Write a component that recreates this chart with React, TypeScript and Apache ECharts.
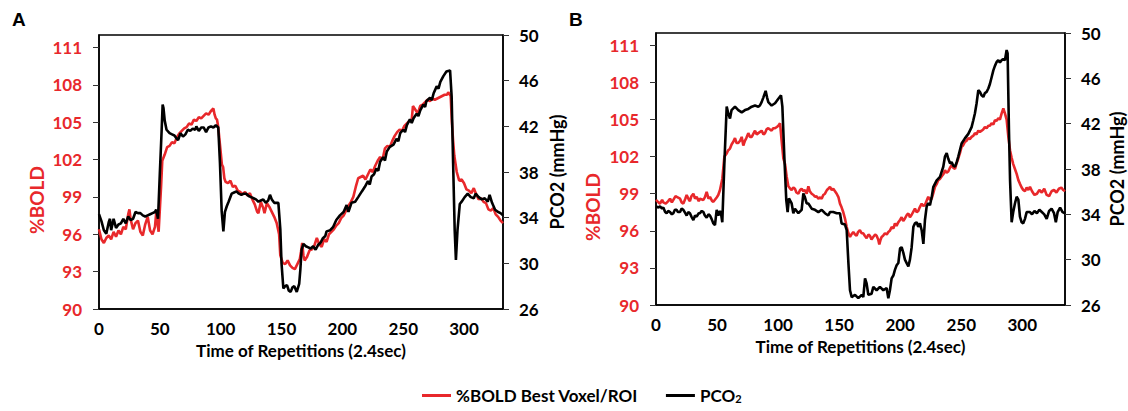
import React, { useEffect, useRef } from "react";
import * as echarts from "echarts";

const boldTicks = [90, 93, 96, 99, 102, 105, 108, 111];
const pco2Ticks = [26, 30, 34, 38, 42, 46, 50];
const timeTicks = [0, 50, 100, 150, 200, 250, 300];

const boldA: number[][] = [
  [0,96.4],[2,95.6],[4,95.3],[6,95.7],[8,95.9],[10,95.6],[12,96.2],[14,95.8],[16,96.3],[18,96.0],[20,96.6],[22,96.4],[24,97.6],[25,98.0],[26,97.2],[28,96.4],[30,96.9],[32,97.1],[34,96.2],[36,95.9],[38,96.8],[40,97.4],[42,96.3],[44,96.0],[46,96.6],[47,97.7],[48,97.0],[49,96.2],[50,98.0],[51,99.8],[52,101.9],[54,102.4],[56,103.0],[58,103.1],[60,103.4],[62,103.3],[64,103.8],[66,104.1],[68,104.3],[70,104.5],[72,104.6],[74,104.9],[76,104.8],[78,105.2],[80,105.1],[82,105.4],[84,105.3],[86,105.5],[88,105.7],[90,105.6],[92,105.9],[94,106.1],[95,105.6],[96,105.3],[97,105.2],[98,104.6],[100,102.6],[101,101.6],[102,101.4],[103,100.5],[104,100.2],[106,100.1],[108,100.3],[110,99.8],[112,99.9],[114,99.5],[116,99.4],[118,99.2],[120,99.4],[122,99.1],[124,99.3],[126,98.8],[128,98.4],[130,97.8],[131,97.7],[133,98.6],[135,98.1],[136,97.7],[138,98.5],[140,98.2],[142,97.8],[144,97.4],[146,96.9],[148,96.0],[149,94.3],[151,93.7],[153,93.6],[155,93.9],[157,93.5],[159,93.3],[161,93.2],[163,93.6],[165,94.0],[166,94.6],[167,95.3],[168,94.3],[169,93.9],[171,94.2],[173,94.7],[175,94.8],[177,95.1],[179,95.7],[181,95.2],[183,95.0],[185,95.6],[187,95.4],[189,96.0],[191,96.2],[193,96.4],[195,96.7],[197,96.9],[199,97.3],[201,97.5],[203,97.9],[205,98.3],[207,98.6],[209,99.0],[211,99.8],[213,100.5],[215,100.6],[217,100.7],[219,100.4],[221,100.8],[223,101.2],[225,101.0],[227,101.5],[229,101.9],[231,102.2],[233,102.0],[235,102.9],[237,103.1],[239,103.0],[241,103.5],[243,103.9],[245,104.2],[247,104.4],[249,104.3],[251,104.7],[253,104.9],[255,105.1],[257,105.2],[258,106.3],[260,106.0],[262,105.7],[264,106.3],[266,106.4],[268,106.6],[270,106.8],[272,106.7],[274,106.9],[276,106.8],[278,106.9],[280,107.0],[282,107.1],[284,107.2],[286,107.2],[287,107.4],[289,107.1],[290,105.0],[291,103.5],[292,102.3],[294,101.0],[296,100.3],[298,100.4],[300,100.1],[302,99.6],[304,99.5],[306,99.3],[308,99.7],[310,99.2],[312,98.8],[314,98.9],[316,98.6],[318,98.5],[320,98.0],[322,97.9],[324,98.1],[326,97.6],[328,97.4],[330,97.1],[332,96.9]
];

const pco2A: number[][] = [
  [0,34.3],[2,33.7],[4,32.9],[6,32.6],[8,33.6],[9,33.9],[10,32.9],[12,33.9],[14,33.1],[16,33.4],[18,33.5],[20,33.9],[22,33.5],[24,34.1],[26,33.8],[28,33.9],[30,34.5],[32,34.4],[34,34.4],[36,34.2],[38,34.1],[40,34.2],[42,34.3],[44,34.4],[46,34.5],[47,34.7],[48.5,33.9],[50,37.9],[51.5,41.7],[52.3,43.9],[53,43.6],[54,42.5],[55.5,41.7],[58,41.4],[60,41.3],[62,41.2],[64,40.9],[65,40.8],[67,41.4],[69,41.1],[71,41.3],[73,41.7],[75,41.6],[77,41.8],[79,41.7],[80,42.0],[82,41.6],[84,41.9],[86,41.9],[88,41.5],[90,41.9],[92,42.0],[94,41.9],[96,42.1],[98,41.9],[99.4,38.8],[100.8,34.6],[102.2,32.8],[103.5,34.5],[105,35.0],[106.5,35.4],[109,36.1],[111,36.2],[113,36.3],[115,36.1],[117,36.0],[119,36.1],[121,36.1],[123,35.9],[125,35.8],[127,35.7],[129,35.6],[131,35.4],[133,35.5],[135,35.6],[137,35.3],[139,35.5],[140.5,36.0],[142,35.6],[144,35.3],[146,35.3],[147.4,35.3],[149,33.0],[150,30.0],[151.5,27.8],[153,28.0],[154.5,28.1],[156,27.6],[157.5,27.5],[159,27.9],[160.5,28.0],[162.5,27.5],[164.5,28.2],[165.5,29.5],[166.5,31.2],[168,31.7],[170,31.5],[172,31.4],[174,31.3],[176,31.5],[178,31.2],[180,31.6],[182,31.8],[184,32.2],[186,32.4],[187,32.8],[190,32.9],[192.5,33.2],[195,33.8],[198,34.2],[201,34.5],[203.5,35.1],[205,34.5],[207.5,35.3],[210.5,35.4],[213,35.8],[216,36.3],[218.5,36.7],[221,37.2],[222.5,36.9],[224,37.6],[226,37.8],[228,38.3],[229.5,38.1],[231,38.9],[233.5,39.3],[235,39.0],[236.5,39.8],[239,40.2],[242,40.4],[244.5,40.9],[246,40.7],[247.5,41.4],[250,41.7],[251.5,41.5],[253,42.1],[255.5,42.6],[257,42.3],[258.5,42.7],[261,43.1],[262.5,42.9],[264,43.4],[266.5,43.9],[268,43.7],[269,44.2],[272,44.5],[273.5,44.3],[275,44.9],[277.5,45.5],[279,45.3],[280.5,45.9],[283,46.4],[285.5,46.8],[288.5,46.9],[289.8,44.6],[291,38.8],[292.3,32.9],[293.3,30.3],[294.6,32.9],[296.5,35.2],[298,35.4],[300.5,35.8],[303,36.1],[305.5,35.8],[308,35.7],[309.5,36.1],[312,35.8],[314.5,35.6],[317,35.7],[319.5,35.4],[321,36.0],[323,35.3],[325.5,34.7],[328,34.5],[330,34.4],[332,34.2]
];

const boldB: number[][] = [
  [0,98.5],[2,98.3],[3.3,98.2],[5,98.5],[6,98.3],[8,98.2],[10,98.4],[11.5,98.6],[13,98.3],[14.2,98.5],[16,98.8],[17,98.75],[19.7,98.6],[21,98.3],[22.4,98.2],[24,98.6],[25.1,98.9],[27,98.5],[27.8,98.4],[29,98.8],[30.6,99.0],[32,98.6],[33.3,98.75],[35,98.4],[36,98.6],[38.8,98.5],[40,98.7],[41.5,99.15],[43,98.6],[44.2,98.75],[46,98.4],[47,98.35],[49.7,98.7],[51,98.9],[52.4,99.3],[54.3,100.2],[56,102.0],[57.9,102.25],[59,102.5],[60.6,102.65],[62,103.0],[63.3,103.2],[64.7,103.5],[66,103.1],[67.4,103.1],[69,103.3],[70.2,103.6],[71.5,102.9],[72.9,103.3],[74,103.5],[75.6,103.9],[77,103.6],[78.4,103.6],[80,103.9],[81.1,104.1],[82.5,103.8],[83.8,103.9],[86.5,104.1],[88,103.8],[89.3,103.9],[90.5,104.2],[92,104.3],[94.7,104.1],[96,104.3],[97.5,104.3],[99,104.4],[100.2,104.5],[101.6,104.7],[102.9,103.3],[104.3,101.85],[105.7,101.4],[107,100.4],[108.4,99.6],[110,99.4],[111.1,99.3],[112.5,99.5],[113.8,99.4],[115,99.1],[116.6,99.0],[118,99.3],[119.3,99.4],[120.7,99.2],[122,99.3],[123.4,99.0],[124.8,99.6],[126,99.2],[127.5,99.0],[129,98.9],[130.2,98.75],[131.5,98.8],[133,98.6],[134.5,98.7],[135.7,98.6],[137,98.9],[138.4,99.0],[140,99.3],[141.1,99.4],[142.5,99.56],[144,99.3],[145.2,99.4],[146.6,99.2],[148,99.0],[149.5,98.7],[150.7,98.2],[152,97.9],[153.4,97.5],[155,96.9],[156.2,96.3],[157.6,95.8],[158.9,95.5],[160,95.7],[161.6,95.9],[163,95.7],[164.3,95.6],[165.5,95.9],[167,96.06],[168.5,95.8],[169.8,95.8],[171,95.6],[172.5,95.4],[174,95.7],[175.2,95.6],[176.5,95.3],[177.9,95.5],[179.5,95.7],[180.7,95.6],[182,95.3],[182.9,94.9],[184,95.3],[184.8,95.5],[186,95.6],[187.5,95.8],[189,95.7],[190.3,95.9],[191.5,96.0],[193,96.3],[194.5,96.2],[195.7,96.6],[197,96.4],[198.5,96.7],[200,96.9],[201.2,97.1],[202.5,96.8],[203.9,97.0],[205.5,97.3],[206.7,97.4],[208,97.1],[209.4,97.3],[211,97.6],[212.1,97.8],[213.5,97.5],[214.8,97.6],[216,97.9],[217.6,98.2],[219,98.0],[220.3,98.1],[221.5,98.4],[223,98.75],[224.5,98.5],[225.8,98.6],[227,99.0],[228.5,99.56],[230,99.8],[231.2,100.1],[232.5,100.2],[233.9,100.4],[235.5,100.6],[236.7,100.9],[238,100.7],[239.4,100.8],[240.8,101.1],[242.1,101.3],[243.5,101.1],[244.9,101.0],[246,101.4],[247.6,101.85],[249,102.3],[250.3,102.8],[251.5,102.9],[253,103.2],[254.5,103.3],[255.8,103.5],[257,103.4],[258.5,103.6],[260,103.7],[261.2,103.9],[262.5,103.8],[264,104.1],[265.3,104.0],[266.7,104.1],[268,104.2],[269.4,104.4],[270.8,104.3],[272.2,104.5],[273.5,104.5],[274.9,104.7],[276.3,104.6],[277.6,104.94],[279,104.9],[280.4,105.1],[281.7,105.0],[283.1,105.5],[284.5,105.9],[285.8,105.5],[287.2,105.0],[288.6,103.6],[290,102.5],[291.3,101.9],[292.6,101.4],[294,101.0],[295.4,100.6],[296.8,100.1],[298.1,99.8],[299.5,99.5],[300.8,99.3],[302.2,99.2],[303.6,99.5],[305,99.3],[306.3,99.56],[308,99.2],[310,98.9],[312,99.0],[314,99.3],[316,99.1],[318,99.4],[320,98.9],[322,98.8],[324,99.2],[326,99.3],[328,99.1],[330,99.4],[332,99.5],[333.5,99.3],[335,99.2]
];

const pco2B: number[][] = [
  [0,34.7],[2,34.6],[3.3,34.7],[5,34.5],[6,34.6],[7.5,34.2],[8.7,34.1],[10,34.3],[11.5,34.2],[13,34.0],[14.2,34.1],[15.5,34.4],[16.9,34.4],[18,34.2],[19.7,34.2],[21,34.5],[22.4,34.4],[24,34.1],[25.1,33.9],[26.5,34.2],[27.8,34.1],[29,33.8],[30.6,33.5],[32,33.9],[33.3,33.8],[35,34.1],[36,34.1],[37.5,34.3],[38.8,34.2],[40,33.9],[41.5,33.7],[43,34.0],[44.2,33.9],[45.5,33.6],[47,33.2],[48.3,33.05],[49.7,34.4],[51,33.9],[52.4,34.3],[53.5,33.9],[54.3,33.3],[56,38.5],[57.9,43.5],[59.2,42.9],[60.6,42.45],[61.9,43.2],[64.7,43.5],[67.4,43.2],[70.2,43.0],[72.9,43.2],[75.6,43.3],[78.4,43.5],[81.1,43.6],[83.8,43.5],[85.1,43.6],[86.5,43.9],[87.9,44.3],[89.8,44.9],[91,44.3],[92,43.9],[94.7,43.6],[97.5,43.8],[100.2,44.2],[102.4,44.5],[103.5,43.5],[105.1,39.1],[106.7,35.25],[107.8,34.2],[108.9,35.4],[111.1,34.96],[112.5,34.1],[113.8,34.5],[116.6,34.1],[119.3,34.4],[120.7,35.84],[122,35.5],[123.4,34.96],[124.8,34.96],[127.5,34.5],[130.2,34.4],[133,34.2],[135.7,34.4],[138.4,34.1],[141.1,33.9],[142.5,34.2],[145.2,34.2],[148,34.1],[150.7,34.1],[152,33.2],[154.8,33.1],[156.2,32.6],[157.6,29.7],[158.9,27.3],[160.3,26.7],[163,26.9],[165.7,26.6],[168.5,26.9],[169.8,26.7],[171.2,28.35],[172.5,27.9],[173.9,26.9],[176.6,27.0],[178,27.6],[180.7,27.3],[183.4,27.6],[186.2,27.3],[188.9,27.5],[190.3,26.6],[191.6,27.3],[193,28.35],[194.4,28.6],[195.7,29.1],[197.1,29.5],[198.5,29.7],[199.9,31.0],[201.2,31.1],[202.6,30.6],[203.9,30.0],[205.3,29.7],[206.7,29.4],[208,30.0],[209.4,31.1],[210.8,32.9],[212.1,33.2],[213.5,33.3],[214.8,32.9],[216.2,33.2],[217.6,32.6],[219,31.4],[220.3,33.5],[221.7,34.7],[223,35.0],[224.4,34.8],[225.8,35.5],[227.1,36.4],[229.9,37.0],[232.6,37.3],[235.3,38.2],[236.7,39.1],[238.1,39.4],[239.4,38.9],[240.8,38.5],[242.1,38.6],[243.5,38.3],[244.9,38.2],[246.3,38.6],[247.6,39.1],[249,39.7],[250.3,40.25],[253,40.7],[255.8,41.1],[258.5,41.7],[259.9,42.3],[261.2,42.9],[262.6,43.8],[264,44.95],[265.3,44.8],[266.7,44.5],[268.1,44.36],[269.4,44.7],[270.8,44.8],[272.2,45.1],[273.5,45.5],[274.9,46.1],[276.3,46.7],[277.6,47.1],[279,47.44],[280.4,47.6],[281.7,47.4],[283.1,47.6],[284.5,47.7],[285.8,47.6],[287.2,48.5],[288,48.2],[289.1,41.4],[290,37.0],[291.3,33.3],[292.6,34.2],[294,34.96],[295.4,35.55],[296.8,35.3],[298.1,33.8],[299.5,33.3],[300.8,33.2],[302.2,33.6],[303.6,34.2],[306.3,34.2],[308,34.0],[310,34.3],[312,34.1],[314,34.4],[316,34.2],[318,34.0],[320,33.6],[322,34.3],[324,34.5],[326,34.1],[327.5,33.3],[329,34.2],[331,34.6],[333,34.2],[335,34.1]
];

const xMaxA = 332;
const xMaxB = 335;

const RED = "#e8282b";
const BLACK = "#000000";
const FONT = "Lato, 'Open Sans', sans-serif";
const BOLD_NAME = "%BOLD Best Voxel/ROI";
const PCO2_NAME = "PCO2";

export default function App() {
  const ref = useRef<HTMLDivElement>(null);
  useEffect(() => {
    document.body.style.margin = "0";
    const chart = echarts.init(ref.current!, null, { renderer: "svg" });
    const labelStyle = (color: string, size = 17) => ({
      color,
      fontFamily: FONT,
      fontWeight: "bold" as const,
      fontSize: size,
    });
    const makeX = (gi: number, max: number) => ({
      type: "value",
      gridIndex: gi,
      min: 0,
      max,
      interval: 50,
      name: "Time of Repetitions (2.4sec)",
      nameLocation: "middle",
      nameGap: 33,
      nameTextStyle: labelStyle(BLACK, 17),
      axisLine: { show: true, lineStyle: { color: BLACK, width: 1.5 } },
      axisTick: { show: false },
      splitLine: { show: false },
      axisLabel: { ...labelStyle(BLACK, 17), margin: 11, customValues: timeTicks },
    });
    const makeLeft = (gi: number) => ({
      type: "value",
      gridIndex: gi,
      position: "left",
      min: 90,
      max: 112,
      interval: 3,
      axisLine: { show: true, lineStyle: { color: BLACK, width: 1.5 } },
      axisTick: { show: true, length: 6, lineStyle: { color: "#333", width: 1 }, customValues: boldTicks },
      splitLine: { show: false },
      axisLabel: { ...labelStyle(RED, 17), margin: 17, customValues: boldTicks },
    });
    const makeRight = (gi: number) => ({
      type: "value",
      gridIndex: gi,
      position: "right",
      min: 26,
      max: 50,
      interval: 4,
      axisLine: { show: true, lineStyle: { color: BLACK, width: 1.5 } },
      axisTick: { show: true, length: 6, lineStyle: { color: "#333", width: 1 }, customValues: pco2Ticks },
      splitLine: { show: false },
      axisLabel: { ...labelStyle(BLACK, 17), margin: 16, customValues: pco2Ticks },
    });
    const lineSeries = (name: string, data: number[][], xi: number, yi: number, color: string, z: number, w: number) => ({
      type: "line",
      name,
      data,
      xAxisIndex: xi,
      yAxisIndex: yi,
      showSymbol: false,
      symbol: "none",
      z,
      lineStyle: { color, width: w },
      itemStyle: { color },
    });
    const rotText = (text: string, x: number, y: number, color: string, size: number) => ({
      type: "text",
      x,
      y,
      rotation: Math.PI / 2,
      style: { text, align: "center", verticalAlign: "middle", fontFamily: FONT, fontWeight: "bold", fontSize: size, fill: color },
    });
    chart.setOption({
      animation: false,
      backgroundColor: "#ffffff",
      grid: [
        { left: 99, top: 35, width: 404, height: 274, show: true, borderColor: BLACK, borderWidth: 1.5, backgroundColor: "transparent" },
        { left: 656, top: 33, width: 409, height: 272, show: true, borderColor: BLACK, borderWidth: 1.5, backgroundColor: "transparent" },
      ],
      xAxis: [makeX(0, xMaxA), makeX(1, xMaxB)],
      yAxis: [makeLeft(0), makeRight(0), makeLeft(1), makeRight(1)],
      legend: {
        left: 420,
        top: 385,
        padding: 2,
        data: [BOLD_NAME, PCO2_NAME],
        icon: "rect",
        itemWidth: 29,
        itemHeight: 3,
        itemGap: 28,
        textStyle: {
          ...labelStyle(BLACK, 17),
          rich: {
            n: { fontFamily: FONT, fontWeight: "bold", fontSize: 17, color: BLACK, lineHeight: 20 },
            s: { fontFamily: FONT, fontWeight: "bold", fontSize: 11, color: BLACK, lineHeight: 20, padding: [6, 0, 0, 0] },
          },
        },
        formatter: (name: string) => (name === PCO2_NAME ? "{n|PCO}{s|2}" : "{n|" + name + "}"),
      },
      graphic: [
        { type: "text", left: 12, top: 10, style: { text: "A", fontFamily: "Arial, 'Liberation Sans', sans-serif", fontWeight: "bold", fontSize: 19, fill: BLACK } },
        { type: "text", left: 569, top: 10, style: { text: "B", fontFamily: "Arial, 'Liberation Sans', sans-serif", fontWeight: "bold", fontSize: 19, fill: BLACK } },
        rotText("%BOLD", 36, 200, RED, 19),
        rotText("%BOLD", 592, 207, RED, 19),
        rotText("PCO2 (mmHg)", 557, 172, BLACK, 18),
        rotText("PCO2 (mmHg)", 1117, 169, BLACK, 18),
      ],
      series: [
        lineSeries(PCO2_NAME, pco2A, 0, 1, BLACK, 3, 2.6),
        lineSeries(BOLD_NAME, boldA, 0, 0, RED, 2, 2.6),
        lineSeries(PCO2_NAME, pco2B, 1, 3, BLACK, 3, 2.6),
        lineSeries(BOLD_NAME, boldB, 1, 2, RED, 2, 2.6),
      ],
    });
    return () => chart.dispose();
  }, []);
  return <div ref={ref} style={{ width: 1128, height: 411 }} />;
}
